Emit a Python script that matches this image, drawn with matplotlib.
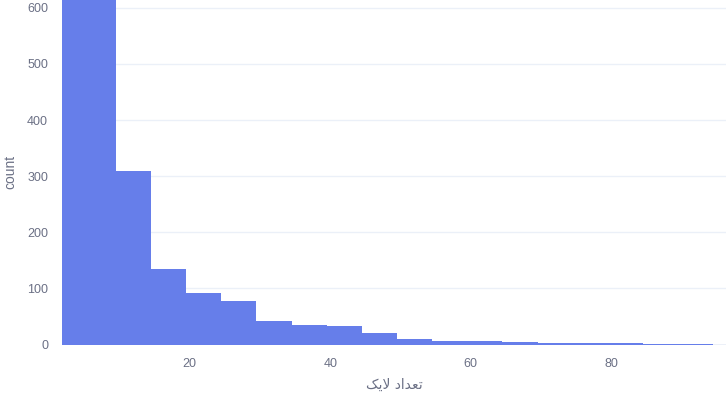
import numpy as np
import matplotlib.pyplot as plt

# histogram of like counts (bin width 5); first two bins are clipped in the reference
bin_start = -0.5
bin_width = 5
counts = [1100, 720, 309, 135, 92, 78, 42, 35, 33, 20, 9, 6, 6, 4, 3, 3, 3, 1, 1]
xticks = [20, 40, 60, 80]
yticks = [0, 100, 200, 300, 400, 500, 600]
ylabel = "count"
# "تعداد لایک" in shaped presentation forms, visual order
xlabel = "\uFB8F\uFBFE\uFEFB \uFEA9\uFE8D\uFEAA\uFECC\uFE97"

edges = bin_start + bin_width * np.arange(len(counts) + 1)

txt = "#6b7085"
grid = "#EBF0F8"

fig = plt.figure(figsize=(7.26, 4.0), dpi=100)
ax = fig.add_axes([62 / 726, 55.5 / 400, 1 - 62 / 726, 1 - 55.5 / 400])

ax.bar(edges[:-1], counts, width=bin_width, align="edge", color="#667EEA",
       linewidth=0, zorder=3)

ax.set_xlim(1.85, 96.3)
ax.set_ylim(0, 614)
ax.set_xticks(xticks)
ax.set_yticks(yticks)
ax.yaxis.grid(True, color=grid, linewidth=1, zorder=0)
ax.axhline(0, color=grid, linewidth=2, zorder=1)
for s in ax.spines.values():
    s.set_visible(False)
ax.tick_params(axis="both", length=0, labelsize=9, labelcolor=txt,
               labelfontfamily=["Liberation Sans", "DejaVu Sans"])
ax.tick_params(axis="y", pad=10)
ax.tick_params(axis="x", pad=10)

fig.text(10 / 726, 1 - 172 / 400, ylabel, rotation=90, ha="center", va="center",
         color=txt, fontsize=10, family=["Liberation Sans", "DejaVu Sans"])
fig.text(394 / 726, 1 - 385 / 400, xlabel, ha="center", va="center",
         color=txt, fontsize=10, family=["DejaVu Sans"])

fig.savefig("out.png", dpi=100)
